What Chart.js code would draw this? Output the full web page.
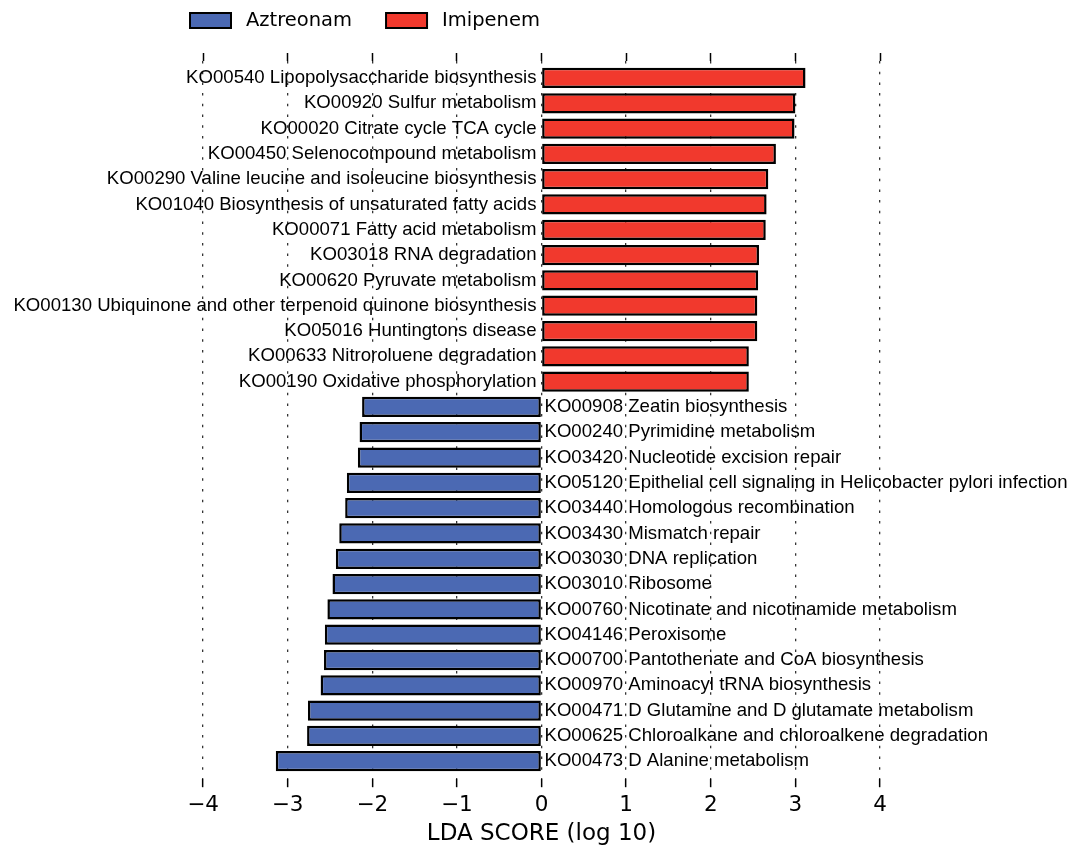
<!DOCTYPE html>
<html>
<head>
<meta charset="utf-8">
<script src="https://cdn.jsdelivr.net/npm/chart.js@4.4.1/dist/chart.umd.min.js"></script>
<style>
  html, body { margin: 0; padding: 0; background: #fff; }
  #wrap { width: 1072px; height: 848px; }
</style>
</head>
<body>
<div id="wrap"><canvas id="ldaChart" width="1072" height="848"></canvas></div>
<script>
// groups
const groupNames = ['Aztreonam', 'Imipenem'];
const groupColors = ['#4b69b3', '#f1392d'];

// Imipenem enriched pathways (top block, positive LDA)
const imipenemPathways = [
    'KO00540 Lipopolysaccharide biosynthesis',
    'KO00920 Sulfur metabolism',
    'KO00020 Citrate cycle TCA cycle',
    'KO00450 Selenocompound metabolism',
    'KO00290 Valine leucine and isoleucine biosynthesis',
    'KO01040 Biosynthesis of unsaturated fatty acids',
    'KO00071 Fatty acid metabolism',
    'KO03018 RNA degradation',
    'KO00620 Pyruvate metabolism',
    'KO00130 Ubiquinone and other terpenoid quinone biosynthesis',
    'KO05016 Huntingtons disease',
    'KO00633 Nitroroluene degradation',
    'KO00190 Oxidative phosphorylation'
];
const imipenemScores = [3.12, 3.00, 2.99, 2.77, 2.68, 2.66, 2.65, 2.57, 2.56, 2.55, 2.55, 2.45, 2.45];

// Aztreonam enriched pathways (bottom block, negative LDA)
const aztreonamPathways = [
    'KO00908 Zeatin biosynthesis',
    'KO00240 Pyrimidine metabolism',
    'KO03420 Nucleotide excision repair',
    'KO05120 Epithelial cell signaling in Helicobacter pylori infection',
    'KO03440 Homologous recombination',
    'KO03430 Mismatch repair',
    'KO03030 DNA replication',
    'KO03010 Ribosome',
    'KO00760 Nicotinate and nicotinamide metabolism',
    'KO04146 Peroxisome',
    'KO00700 Pantothenate and CoA biosynthesis',
    'KO00970 Aminoacyl tRNA biosynthesis',
    'KO00471 D Glutamine and D glutamate metabolism',
    'KO00625 Chloroalkane and chloroalkene degradation',
    'KO00473 D Alanine metabolism'
];
const aztreonamScores = [-2.12, -2.15, -2.17, -2.30, -2.32, -2.39, -2.43, -2.47, -2.53, -2.56, -2.57, -2.61, -2.76, -2.77, -3.14];

// x axis ticks
const xTickMin = -4;
const xTickMax = 4;
const axisTitle = 'LDA SCORE (log 10)';

// rows: imipenem on top, aztreonam below
const imipenemRows = imipenemScores.map((v, i) => ({ x: v, y: i }));
const aztreonamRows = aztreonamScores.map((v, i) => ({ x: v, y: imipenemScores.length + i }));

// pathway names next to the zero line
const barLabels = {
    id: 'barLabels',
    afterDatasetsDraw(chart) {
        const ctx = chart.ctx;
        const x0 = chart.scales.x.getPixelForValue(0);
        ctx.save();
        ctx.font = '18.6px "Liberation Sans", Arial, sans-serif';
        ctx.fillStyle = '#000';
        ctx.textBaseline = 'middle';
        chart.data.datasets.forEach((ds, di) => {
            chart.getDatasetMeta(di).data.forEach((bar, i) => {
                const positive = ds.data[i].x > 0;
                ctx.textAlign = positive ? 'right' : 'left';
                ctx.fillText(ds.names[i], positive ? x0 - 5 : x0 + 3, bar.y);
            });
        });
        ctx.restore();
    }
};

// legend row above the plot
const topLegend = {
    id: 'topLegend',
    afterDraw(chart) {
        const ctx = chart.ctx;
        let x = 190;
        ctx.save();
        ctx.font = '19.5px "DejaVu Sans"';
        ctx.textBaseline = 'middle';
        chart.data.datasets.forEach(ds => {
            ctx.fillStyle = ds.backgroundColor;
            ctx.fillRect(x, 13, 41, 15);
            ctx.lineWidth = 2;
            ctx.strokeStyle = '#000';
            ctx.strokeRect(x, 13, 41, 15);
            ctx.fillStyle = '#000';
            ctx.textAlign = 'left';
            ctx.fillText(ds.label, x + 56, 21);
            x += 56 + ctx.measureText(ds.label).width + 34;
        });
        ctx.restore();
    }
};

const barStyle = {
    borderColor: '#000',
    borderWidth: 2.5,
    borderSkipped: false,
    grouped: false,
    barPercentage: 0.8,
    categoryPercentage: 1
};

new Chart(document.getElementById('ldaChart'), {
    type: 'bar',
    data: {
        datasets: [
            Object.assign({ label: groupNames[0], data: aztreonamRows, names: aztreonamPathways, backgroundColor: groupColors[0] }, barStyle),
            Object.assign({ label: groupNames[1], data: imipenemRows, names: imipenemPathways, backgroundColor: groupColors[1] }, barStyle)
        ]
    },
    options: {
        indexAxis: 'y',
        responsive: false,
        animation: false,
        layout: { padding: { left: 203, right: 192, top: 53, bottom: 2 } },
        plugins: { legend: { display: false }, tooltip: { enabled: false } },
        scales: {
            x: {
                type: 'linear',
                position: 'bottom',
                min: xTickMin,
                max: xTickMax,
                grid: { color: '#333', lineWidth: 1.3, tickColor: '#000', tickWidth: 1.5, tickLength: 8, tickBorderDash: [] },
                border: { display: false, dash: [2.5, 8.2] },
                ticks: {
                    stepSize: 1,
                    padding: 5,
                    color: '#000',
                    font: { family: 'DejaVu Sans', size: 21.5 },
                    callback: v => v < 0 ? '\u2212' + Math.abs(v) : String(v)
                },
                title: {
                    display: true,
                    text: axisTitle,
                    color: '#000',
                    font: { family: 'DejaVu Sans', size: 23, lineHeight: 1 },
                    padding: { top: 0, bottom: 0 }
                }
            },
            xTop: {
                type: 'linear',
                axis: 'x',
                position: 'top',
                min: xTickMin,
                max: xTickMax,
                grid: { drawOnChartArea: false, tickColor: '#000', tickWidth: 1.5, tickLength: 8 },
                border: { display: false },
                ticks: { display: false, stepSize: 1 }
            },
            y: {
                type: 'linear',
                min: -0.67,
                max: 27.71,
                reverse: true,
                offset: false,
                display: false,
                grid: { offset: false },
                ticks: { stepSize: 1, includeBounds: false }
            }
        }
    },
    plugins: [barLabels, topLegend]
});
</script>
</body>
</html>
